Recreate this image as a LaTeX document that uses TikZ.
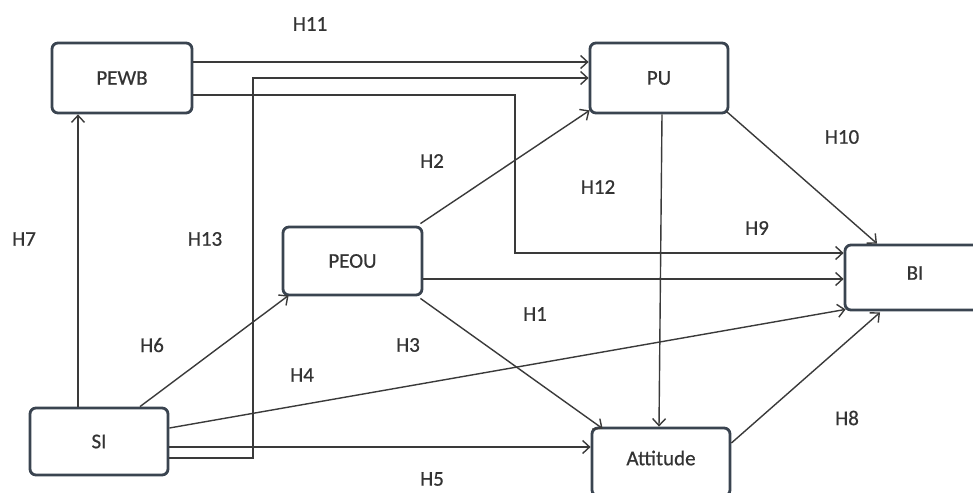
\documentclass[tikz,border=0pt]{standalone}
\usepackage{fontspec}
\setmainfont{Carlito}[FakeBold=0.6]
\usetikzlibrary{arrows.meta,calc}
\definecolor{boxline}{HTML}{3A4450}
\definecolor{lineclr}{HTML}{3A3A3A}
\definecolor{txt}{HTML}{333333}
\begin{document}
\begin{tikzpicture}[x=1pt,y=-1pt,
  box/.style={draw=boxline,line width=2.8pt,rounded corners=6pt,fill=white,
    minimum width=139pt,minimum height=68pt,inner sep=0pt,
    font=\fontsize{21}{24}\selectfont,text=txt},
  lab/.style={font=\fontsize{21}{24}\selectfont,text=txt,inner sep=0pt},
  arr/.style={draw=lineclr,line width=1.4pt,-{Straight Barb[length=7pt,width=13pt,line width=1.4pt]}},
  ln/.style={draw=lineclr,line width=1.4pt}]
\useasboundingbox (0,0) rectangle (973,492);
\fill[white] (0,0) rectangle (973,492);
% nodes
\node[box,minimum width=140pt,minimum height=70pt] (PEWB) at (122,78) {PEWB};
\node[box,minimum width=138pt,minimum height=70pt] (PU) at (659,78) {PU};
\node[box] (PEOU) at (352.5,261) {PEOU};
\node[box,minimum width=138pt,minimum height=67pt] (SI) at (99,441.5) {SI};
\node[box,minimum width=138pt] (Att) at (661,462) {};
\node[lab] (AttT) at (661,458) {Attitude};
\node[box,minimum width=140pt,minimum height=65pt] (BI) at (915,277.5) {};
\node[lab] (BIT) at (915,273) {BI};
% helper coordinates
\coordinate (c13) at (253,78);
\coordinate (c12) at (515,253);
% connectors
\draw[arr] ([yshift=16pt]PEWB.east) -- ([yshift=16pt]PU.west);
\draw[arr] ([yshift=-16.5pt]SI.east) -| (c13) -- (PU.west);
\draw[arr] ([yshift=-17pt]PEWB.east) -| (c12) -- (c12 -| BI.west);
\draw[arr] ([yshift=-18pt]PEOU.east) coordinate (p1) -- (p1 -| BI.west);
\draw[arr] ([xshift=-3pt,yshift=2pt]PEOU.north east) -- ([xshift=1pt,yshift=4pt]PU.south west);
\draw[arr] ([xshift=-3pt,yshift=-2pt]PEOU.south east) -- ([xshift=12pt,yshift=-2pt]Att.north west);
\draw[arr] ([yshift=13.5pt]SI.east) -- ([xshift=2pt,yshift=2pt]BI.south west);
\draw[arr] ([yshift=-5.5pt]SI.east) coordinate (p2) -- (p2 -| Att.west);
\draw[arr] ([xshift=-21pt]SI.north) coordinate (p3) -- (p3 |- PEWB.south);
\draw[arr] ([xshift=41pt]SI.north) -- ([xshift=7pt,yshift=1pt]PEOU.south west);
\draw[arr] ([xshift=3pt]PU.south) -- ([xshift=-2pt]Att.north);
\draw[arr] ([xshift=-3pt,yshift=3pt]PU.south east) -- ([xshift=-38pt]BI.north);
\draw[arr] ([yshift=19pt]Att.east) -- ([xshift=-35pt,yshift=-1pt]BI.south);
% labels
\node[lab] (h11) at (310,24) {H11};
\node[lab] (h2) at (432,161) {H2};
\node[lab] (h10) at (842,137) {H10};
\node[lab] (h12) at (598,187) {H12};
\node[lab] (h9) at (757,228) {H9};
\node[lab] (h7) at (24,239) {H7};
\node[lab] (h13) at (205,239) {H13};
\node[lab] (h6) at (152,345) {H6};
\node[lab] (h3) at (408,345) {H3};
\node[lab] (h4) at (302,375) {H4};
\node[lab] (h1) at (535,314) {H1};
\node[lab] (h8) at (847,418) {H8};
\node[lab] (h5) at (432,479) {H5};
\end{tikzpicture}
\end{document}
